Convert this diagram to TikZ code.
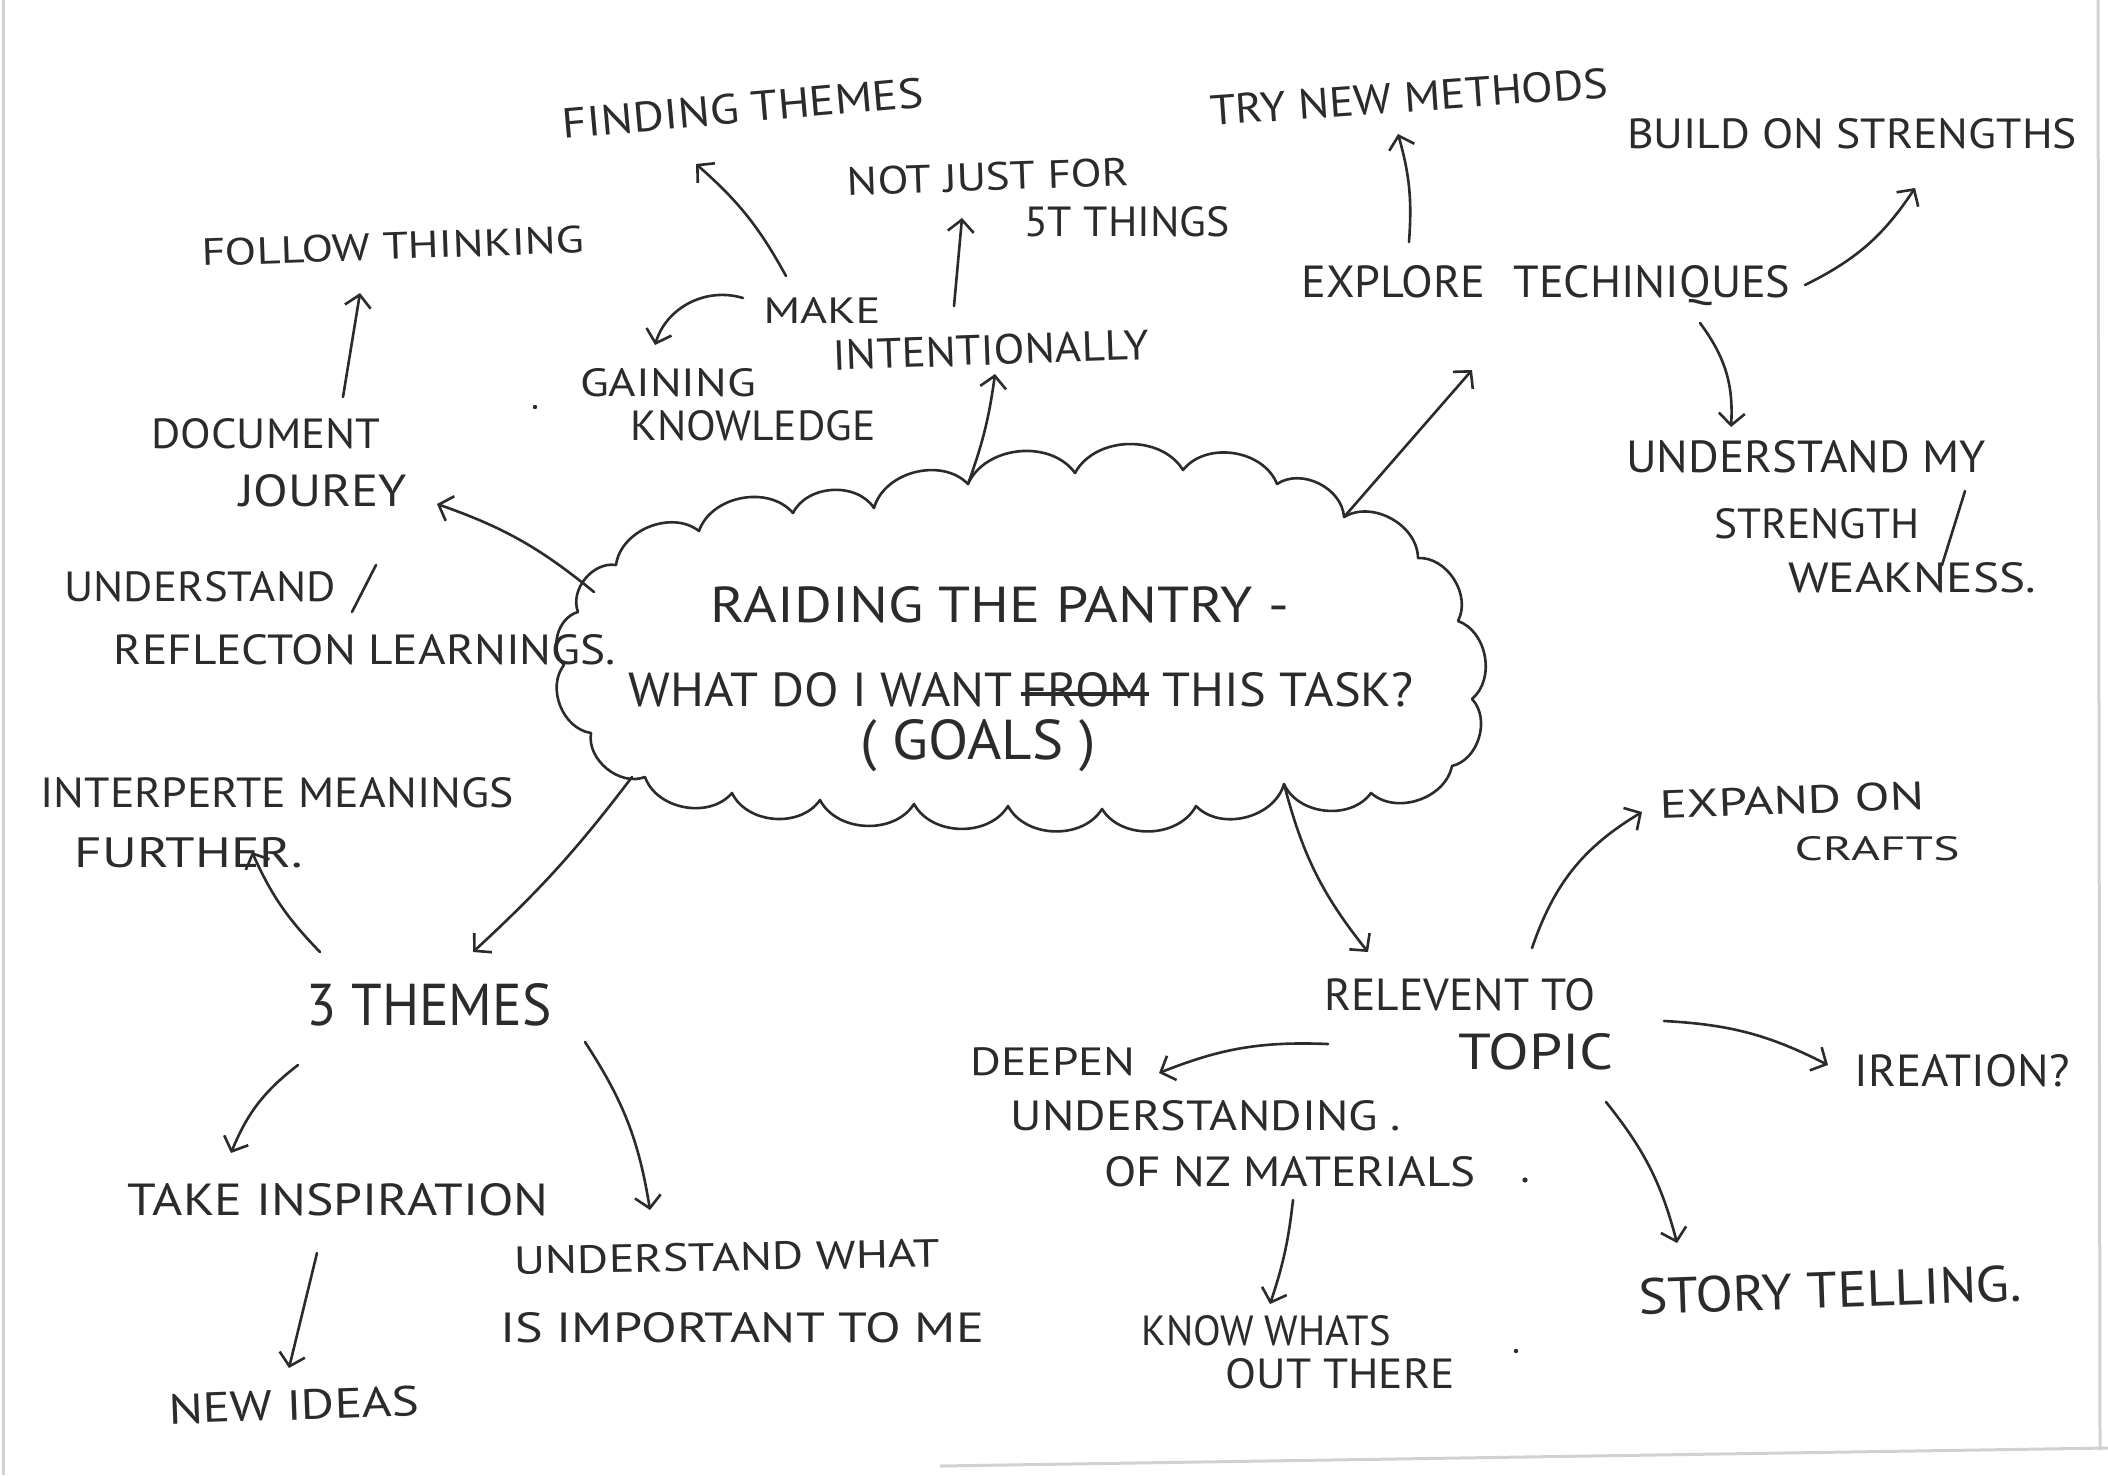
\documentclass[tikz,border=0pt]{standalone}
\usepackage{fontspec}
\setmainfont{PT Sans}
\usetikzlibrary{arrows.meta,calc}
\definecolor{ink}{HTML}{2B2B2B}
\newcommand\hw[3]{\resizebox{#1pt}{#2pt}{#3}}
\newcommand\mystrike[1]{\setbox0\hbox{#1}\rlap{\rule[0.32\ht0]{\wd0}{0.08em}}\box0\relax}
\begin{document}
\begin{tikzpicture}[x=1pt,y=-1pt,
  lbl/.style={inner sep=4pt, text=ink, font=\fontsize{36}{40}\selectfont},
  pen/.style={draw=ink, line width=2.6pt, line cap=round, line join=round},
  arr/.style={pen, -{Straight Barb[length=12pt,width=26pt]}},
  edge/.style={draw=black!18, line width=3pt}
]
\useasboundingbox[fill=white] (0,0) rectangle (2108,1475);
\draw[edge] (2098,0) -- (2100,1450);
\draw[edge] (940,1466) -- (2108,1448);
\draw[edge] (3,0) -- (3,1475);

% ---------- cloud ----------
\coordinate (D1) at (616,565);
\coordinate (D2) at (699,531);
\coordinate (D3) at (793,513);
\coordinate (D4) at (874,508);
\coordinate (D5) at (968,484);
\coordinate (D6) at (1075,473);
\coordinate (D7) at (1183,470);
\coordinate (D8) at (1277,484);
\coordinate (D9) at (1344,517);
\coordinate (D10) at (1418,558);
\coordinate (D11) at (1458,621);
\coordinate (D12) at (1472,699);
\coordinate (D13) at (1452,766);
\coordinate (D14) at (1371,793);
\coordinate (D15) at (1284,784);
\coordinate (D16) at (1196,806);
\coordinate (D17) at (1102,809);
\coordinate (D18) at (1008,806);
\coordinate (D19) at (914,804);
\coordinate (D20) at (820,800);
\coordinate (D21) at (732,793);
\coordinate (D22) at (645,777);
\coordinate (D23) at (591,733);
\coordinate (D24) at (564,665);
\coordinate (D25) at (578,612);
\draw[pen] (D1) to[bend left=60] (D2) to[bend left=60] (D3) to[bend left=60] (D4)
  to[bend left=60] (D5) to[bend left=60] (D6) to[bend left=60] (D7) to[bend left=60] (D8)
  to[bend left=60] (D9) to[bend left=60] (D10) to[bend left=60] (D11) to[bend left=60] (D12)
  to[bend left=60] (D13) to[bend left=60] (D14) to[bend left=60] (D15) to[bend left=60] (D16)
  to[bend left=60] (D17) to[bend left=60] (D18) to[bend left=60] (D19) to[bend left=60] (D20)
  to[bend left=60] (D21) to[bend left=60] (D22) to[bend left=60] (D23) to[bend left=60] (D24)
  to[bend left=60] (D25) to[bend left=60] (D1);
\coordinate (c1) at (594,592);

\node[lbl] (r1) at (1000,605) {\hw{578}{36}{RAIDING THE PANTRY -}};
\node[lbl] (r2) at (1021,690) {\hw{785}{34}{WHAT DO I WANT\,\mystrike{FROM} THIS TASK?}};
\node[lbl] (r3) at (978,746) {\hw{235}{40}{( GOALS )}};

% ---------- labels ----------
\node[lbl, rotate=5] (ft) at (743,108) {\hw{362}{30}{FINDING THEMES}};
\node[lbl, rotate=2] (njf) at (988,177) {\hw{282}{28}{NOT JUST FOR}};
\node[lbl] (thg) at (1127,222) {\hw{206}{30}{5T THINGS}};
\node[lbl, rotate=2] (fol) at (393,246) {\hw{383}{27}{FOLLOW THINKING}};
\node[lbl] (make) at (822,310) {\hw{117}{26}{MAKE}};
\node[lbl, rotate=2] (int) at (991,350) {\hw{316}{30}{INTENTIONALLY}};
\node[lbl] (gain) at (668,383) {\hw{176}{28}{GAINING}};
\node[lbl] (know) at (753,426) {\hw{245}{30}{KNOWLEDGE}};
\node[lbl] (doc) at (266,434) {\hw{229}{30}{DOCUMENT}};
\node[lbl] (jou) at (323,491) {\hw{168}{32}{JOUREY}};
\node[lbl] (und1) at (200,587) {\hw{271}{30}{UNDERSTAND}};
\node[lbl] (ref) at (365,650) {\hw{502}{30}{REFLECTON LEARNINGS.}};
\node[lbl] (int2) at (277,793) {\hw{473}{30}{INTERPERTE MEANINGS}};
\node[lbl] (fur) at (189,853) {\hw{228}{30}{FURTHER.}};
\node[lbl] (th3) at (429,1005) {\hw{245}{42}{3 THEMES}};
\node[lbl] (take) at (338,1200) {\hw{421}{32}{TAKE INSPIRATION}};
\node[lbl, rotate=2] (new) at (294,1405) {\hw{251}{30}{NEW IDEAS}};
\node[lbl, rotate=1] (uw) at (727,1257) {\hw{426}{28}{UNDERSTAND WHAT}};
\node[lbl] (imp) at (742,1328) {\hw{484}{30}{IS IMPORTANT TO ME}};
\node[lbl, rotate=4] (try) at (1409,97) {\hw{399}{30}{TRY NEW METHODS}};
\node[lbl] (bld) at (1852,134) {\hw{450}{30}{BUILD ON STRENGTHS}};
\node[lbl] (exp) at (1546,286) {\hw{489}{32}{EXPLORE\hspace{0.6em}TECHINIQUES}};
\node[lbl] (um) at (1806,457) {\hw{360}{32}{UNDERSTAND MY}};
\node[lbl] (str) at (1817,524) {\hw{205}{30}{STRENGTH}};
\node[lbl] (wk) at (1912,578) {\hw{248}{30}{WEAKNESS.}};
\node[lbl, rotate=2] (ex) at (1792,800) {\hw{265}{28}{EXPAND ON}};
\node[lbl] (cr) at (1877,849) {\hw{165}{24}{CRAFTS}};
\node[lbl] (rel) at (1460,995) {\hw{271}{32}{RELEVENT TO}};
\node[lbl] (top) at (1536,1052) {\hw{155}{36}{TOPIC}};
\node[lbl] (dp) at (1053,1062) {\hw{165}{28}{DEEPEN}};
\node[lbl] (us) at (1206,1116) {\hw{390}{30}{UNDERSTANDING .}};
\node[lbl] (nz) at (1290,1172) {\hw{371}{30}{OF NZ MATERIALS}};
\node[lbl] (cre) at (1962,1071) {\hw{215}{32}{IREATION?}};
\node[lbl, rotate=2] (sto) at (1830,1290) {\hw{383}{36}{STORY TELLING.}};
\node[lbl] (kw) at (1266,1331) {\hw{249}{30}{KNOW WHATS}};
\node[lbl] (ot) at (1340,1374) {\hw{229}{30}{OUT THERE}};

% slashes and dots
\draw[pen] (376,565) -- (352,612);
\draw[pen] (1965,491) -- (1942,565);
\fill[ink] (1525,1180) circle (2.6);
\fill[ink] (535,407) circle (2.2);
\fill[ink] (1516,1351) circle (2.2);

% ---------- connectors ----------
\draw[arr] (c1) to[bend right=10] ($(jou)+(114,13)$);
\draw[arr] ($(doc)+(77,-37)$) -- ($(fol)+(-33,47)$);
\draw[arr] (D5) to[bend right=6] ($(int)+(4,24)$);
\draw[arr] ($(int)+(-37,-44)$) -- ($(njf)+(-26,41)$);
\draw[arr] ($(make)+(-36,-34)$) to[bend right=10] ($(ft)+(-47,56)$);
\draw[arr] ($(make)+(-79,-12)$) to[bend right=45] ($(gain)+(-13,-38)$);
\draw[arr] (D9) -- ($(exp)+(-74,84)$);
\draw[arr] ($(exp)+(-137,-44)$) to[bend right=10] ($(try)+(-11,37)$);
\draw[arr] ($(exp)+(259,-1)$) to[bend right=15] ($(bld)+(63,54)$);
\draw[arr] ($(exp)+(154,37)$) to[bend left=20] ($(um)+(-75,-30)$);
\draw[arr] ($(D22)+(-13,0)$) to[bend left=5] ($(th3)+(44,-53)$);
\draw[arr] ($(th3)+(-109,-53)$) to[bend left=10] ($(fur)+(63,-1)$);
\draw[arr] ($(th3)+(-131,60)$) to[bend right=15] ($(take)+(-107,-47)$);
\draw[arr] ($(th3)+(156,37)$) to[bend left=12] ($(uw)+(-77,-47)$);
\draw[arr] ($(take)+(-21,53)$) -- ($(new)+(-5,-37)$);
\draw[arr] (D15) to[bend right=12] ($(rel)+(-92,-43)$);
\draw[arr] ($(rel)+(72,-47)$) to[bend left=20] ($(ex)+(-150,12)$);
\draw[arr] ($(rel)+(-132,49)$) to[bend right=12] ($(dp)+(106,11)$);
\draw[arr] ($(top)+(128,-31)$) to[bend left=12] ($(cre)+(-134,-6)$);
\draw[arr] ($(top)+(70,50)$) to[bend left=12] ($(sto)+(-153,-47)$);
\draw[arr] ($(nz)+(3,28)$) to[bend left=6] ($(kw)+(4,-27)$);
\end{tikzpicture}
\end{document}
